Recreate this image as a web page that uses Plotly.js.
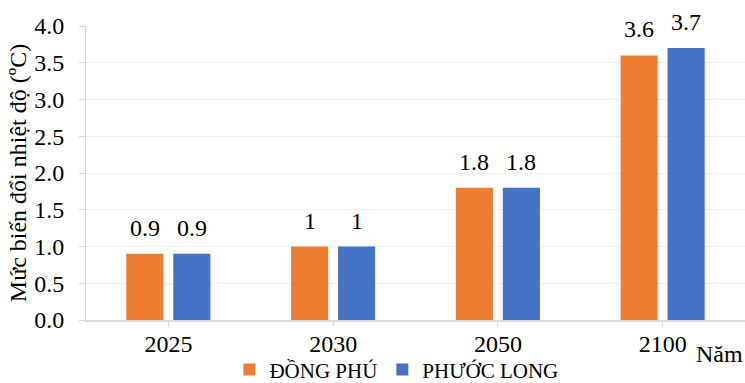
<!DOCTYPE html>
<html>
<head>
<meta charset="utf-8">
<script src="https://cdn.plot.ly/plotly-3.0.1.min.js"></script>
<style>
  html, body { margin: 0; padding: 0; background: #fff; }
  #chart { width: 745px; height: 383px; }
</style>
</head>
<body>
<div id="chart"></div>
<script>
// Temperature change projections by year for two districts
const years = ['2025', '2030', '2050', '2100'];
const dongPhu = [0.9, 1, 1.8, 3.6];
const phuocLong = [0.9, 1, 1.8, 3.7];
const seriesNames = ['ĐỒNG PHÚ', 'PHƯỚC LONG'];
const yTicks = [0, 0.5, 1, 1.5, 2, 2.5, 3, 3.5, 4];
const yTickText = ['0.0', '0.5', '1.0', '1.5', '2.0', '2.5', '3.0', '3.5', '4.0'];

const FONT = 'Liberation Serif, Times New Roman, serif';
const colors = ['#ED7D31', '#4472C4'];

const traces = [dongPhu, phuocLong].map((vals, i) => ({
  type: 'bar',
  name: seriesNames[i],
  x: years,
  y: vals,
  marker: { color: colors[i] },
  hoverinfo: 'skip'
}));

// value labels sit above each bar, shifted to its slot within the group
// (x given as the category index on the category axis)
const annotations = [];
[dongPhu, phuocLong].forEach((vals, i) => {
  vals.forEach((v, j) => {
    annotations.push({
      x: j, y: v, xref: 'x', yref: 'y',
      text: String(v), showarrow: false,
      xanchor: 'center', yanchor: 'bottom',
      xshift: i === 0 ? -23.5 : 23.5, yshift: 11,
      font: { family: FONT, size: 24, color: '#000' }
    });
  });
});

const H = 383, M = { l: 86, r: 0, t: 26, b: 63, autoexpand: false };
// "Năm" label under the right end of the axis
annotations.push({
  x: 1, xref: 'paper',
  y: (H - M.b - 354) / (H - M.t - M.b), yref: 'paper',
  text: 'Năm', showarrow: false,
  xanchor: 'right', yanchor: 'middle',
  font: { family: FONT, size: 24, color: '#000' }
});

const layout = {
  width: 745, height: H,
  margin: M,
  paper_bgcolor: '#fff',
  plot_bgcolor: '#fff',
  barmode: 'group',
  bargap: 0.43,
  bargroupgap: 0.21,
  showlegend: true,
  legend: {
    orientation: 'h',
    x: 0.471, xanchor: 'center',
    y: -0.1, yanchor: 'top',
    bgcolor: 'rgba(0,0,0,0)',
    font: { family: FONT, size: 21, color: '#000' },
    itemwidth: 30,
    tracegroupgap: 0
  },
  xaxis: {
    type: 'category',
    categoryorder: 'array', categoryarray: years,
    range: [-0.5, years.length - 0.5],
    autorange: false,
    showline: true, linecolor: '#d9d9d9', linewidth: 2,
    ticks: 'outside', ticklen: 5, tickcolor: '#d9d9d9', tickwidth: 1,
    ticklabelstandoff: -4,
    showgrid: false, zeroline: false,
    tickfont: { family: FONT, size: 24, color: '#000' }
  },
  yaxis: {
    range: [0, 4],
    autorange: false,
    tickvals: yTicks, ticktext: yTickText,
    showline: true, linecolor: '#d9d9d9', linewidth: 1,
    ticks: 'outside', ticklen: 6, tickcolor: '#d9d9d9', tickwidth: 1,
    ticklabelstandoff: 10,
    showgrid: true, gridcolor: '#efefef', gridwidth: 1,
    zeroline: false,
    tickfont: { family: FONT, size: 24, color: '#000' },
    title: {
      text: 'Mức biến đổi nhiệt độ (ºC)',
      font: { family: FONT, size: 24, color: '#000' },
      standoff: 0
    }
  },
  annotations: annotations
};

Plotly.newPlot('chart', traces, layout, { displayModeBar: false, staticPlot: true });
</script>
</body>
</html>
